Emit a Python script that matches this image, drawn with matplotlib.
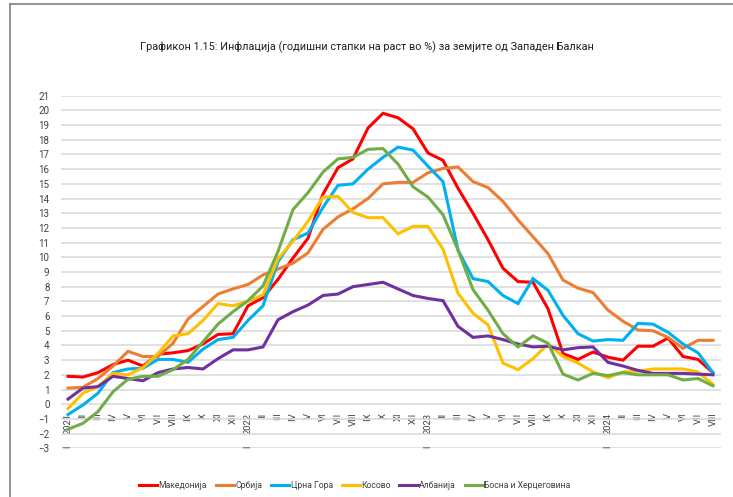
import matplotlib
matplotlib.use('Agg')
import matplotlib.pyplot as plt
from matplotlib.lines import Line2D

plt.rcParams['font.family'] = ['Roboto', 'DejaVu Sans']

# monthly data, Jan 2021 - Aug 2024
years = ['2021', '2022', '2023', '2024']
months = ['I', 'II', 'III', 'IV', 'V', 'VI', 'VII', 'VIII', 'IX', 'X', 'XI', 'XII']
n_months = 44

makedonija = [1.9, 1.85, 2.15, 2.7, 3.0, 2.6, 3.4, 3.5, 3.65, 4.1, 4.75, 4.8,
              6.7, 7.25, 8.5, 9.95, 11.3, 14.3, 16.1, 16.7, 18.8, 19.8, 19.5, 18.75,
              17.1, 16.6, 14.7, 13.0, 11.2, 9.25, 8.35, 8.3, 6.5, 3.45, 3.05, 3.55,
              3.2, 3.0, 3.95, 3.95, 4.5, 3.25, 3.05, 2.15]
srbija = [1.1, 1.15, 1.75, 2.6, 3.6, 3.25, 3.25, 4.15, 5.8, 6.65, 7.5, 7.85,
          8.15, 8.8, 9.2, 9.6, 10.3, 11.9, 12.75, 13.3, 14.0, 15.0, 15.1, 15.1,
          15.75, 16.05, 16.15, 15.15, 14.75, 13.8, 12.55, 11.4, 10.25, 8.45, 7.9, 7.6,
          6.4, 5.65, 5.05, 5.0, 4.55, 3.8, 4.35, 4.35]
crna_gora = [-0.7, -0.05, 0.75, 2.15, 2.4, 2.45, 3.05, 3.05, 2.85, 3.75, 4.4, 4.55,
             5.7, 6.7, 9.7, 11.2, 11.65, 13.4, 14.9, 15.0, 16.0, 16.8, 17.5, 17.3,
             16.2, 15.15, 10.5, 8.55, 8.35, 7.4, 6.85, 8.55, 7.75, 6.05, 4.8, 4.3,
             4.4, 4.35, 5.5, 5.45, 4.9, 4.1, 3.5, 2.15]
kosovo = [-0.3, 0.75, 1.2, 2.1, 2.0, 2.5, 3.45, 4.65, 4.8, 5.7, 6.85, 6.7,
          7.0, 7.45, 9.9, 11.1, 12.45, 14.1, 14.15, 13.05, 12.7, 12.7, 11.6, 12.1,
          12.1, 10.55, 7.55, 6.2, 5.4, 2.8, 2.35, 3.1, 4.1, 3.25, 2.8, 2.2,
          1.8, 2.2, 2.25, 2.4, 2.4, 2.4, 2.2, 1.35]
albanija = [0.35, 1.1, 1.2, 1.9, 1.75, 1.6, 2.15, 2.4, 2.5, 2.4, 3.1, 3.7,
            3.7, 3.9, 5.75, 6.3, 6.75, 7.4, 7.5, 8.0, 8.15, 8.3, 7.85, 7.4,
            7.2, 7.05, 5.3, 4.55, 4.65, 4.4, 4.1, 3.9, 3.95, 3.7, 3.85, 3.9,
            2.85, 2.6, 2.3, 2.1, 2.1, 2.1, 2.05, 2.0]
bih = [-1.7, -1.3, -0.5, 0.85, 1.7, 1.9, 1.9, 2.35, 3.05, 4.25, 5.45, 6.3,
       7.05, 8.05, 10.4, 13.25, 14.4, 15.8, 16.7, 16.8, 17.35, 17.4, 16.35, 14.8,
       14.1, 12.9, 10.5, 7.8, 6.4, 4.8, 3.9, 4.65, 4.15, 2.05, 1.65, 2.1,
       1.95, 2.15, 2.0, 2.0, 2.0, 1.65, 1.75, 1.25]

names = ['Македонија', 'Србија', 'Црна Гора', 'Косово', 'Албанија', 'Босна и Херцеговина']
colors = ['#FF0000', '#ED7D31', '#00B0F0', '#FFC000', '#7030A0', '#70AD47']
series = [makedonija, srbija, crna_gora, kosovo, albanija, bih]

labels = []
for i in range(n_months):
    m = i % 12
    labels.append(years[i // 12] if m == 0 else months[m])

fig = plt.figure(figsize=(7.33, 4.97), dpi=100)
ax = fig.add_axes([60.5 / 733, 1 - 448.3 / 497, 660 / 733, (448.3 - 95.7) / 497])

x = list(range(n_months))
for name, col, vals in zip(names, colors, series):
    ax.plot(x, vals, color=col, lw=2.2, label=name, solid_joinstyle='miter')

ax.set_xlim(-0.5, n_months - 0.5)
ax.set_ylim(-3, 21)
ax.set_yticks(range(-3, 22))
ax.yaxis.grid(True, color='#D9D9D9', lw=1.1)
ax.set_axisbelow(True)
for s in ['top', 'right', 'left']:
    ax.spines[s].set_visible(False)
ax.spines['bottom'].set_position(('data', 0))
ax.spines['bottom'].set_visible(False)
ax.set_xticks(x)
ax.set_xticklabels(labels)
ax.tick_params(axis='x', length=0, pad=6, rotation=90, labelsize=6.8, labelcolor='#404040')
ax.tick_params(axis='y', length=0, pad=8, labelsize=7, labelcolor='#404040')

# "I" marks under each year label
for i in range(0, n_months, 12):
    ax.text(i, -2.9, 'I', rotation=90, ha='center', va='center', fontsize=6.5, color='#404040')

fig.text(0.50, 0.905, 'Графикон 1.15: Инфлација (годишни стапки на раст во %) за земјите од Западен Балкан',
         ha='center', va='center', fontsize=7.8, color='#202020')

fig.legend(loc='center', bbox_to_anchor=(0.484, 0.024), ncol=6, frameon=False, fontsize=6.2,
           handlelength=2.1, handletextpad=0.2, columnspacing=1.0, labelcolor='#404040')

# page frame
fig.add_artist(Line2D([10 / 733, 1], [1 - 4 / 497, 1 - 4 / 497], color='#808080', lw=1.2))
fig.add_artist(Line2D([10 / 733, 10 / 733], [0, 1 - 4 / 497], color='#808080', lw=1.2))

fig.savefig('out.png', dpi=100)
